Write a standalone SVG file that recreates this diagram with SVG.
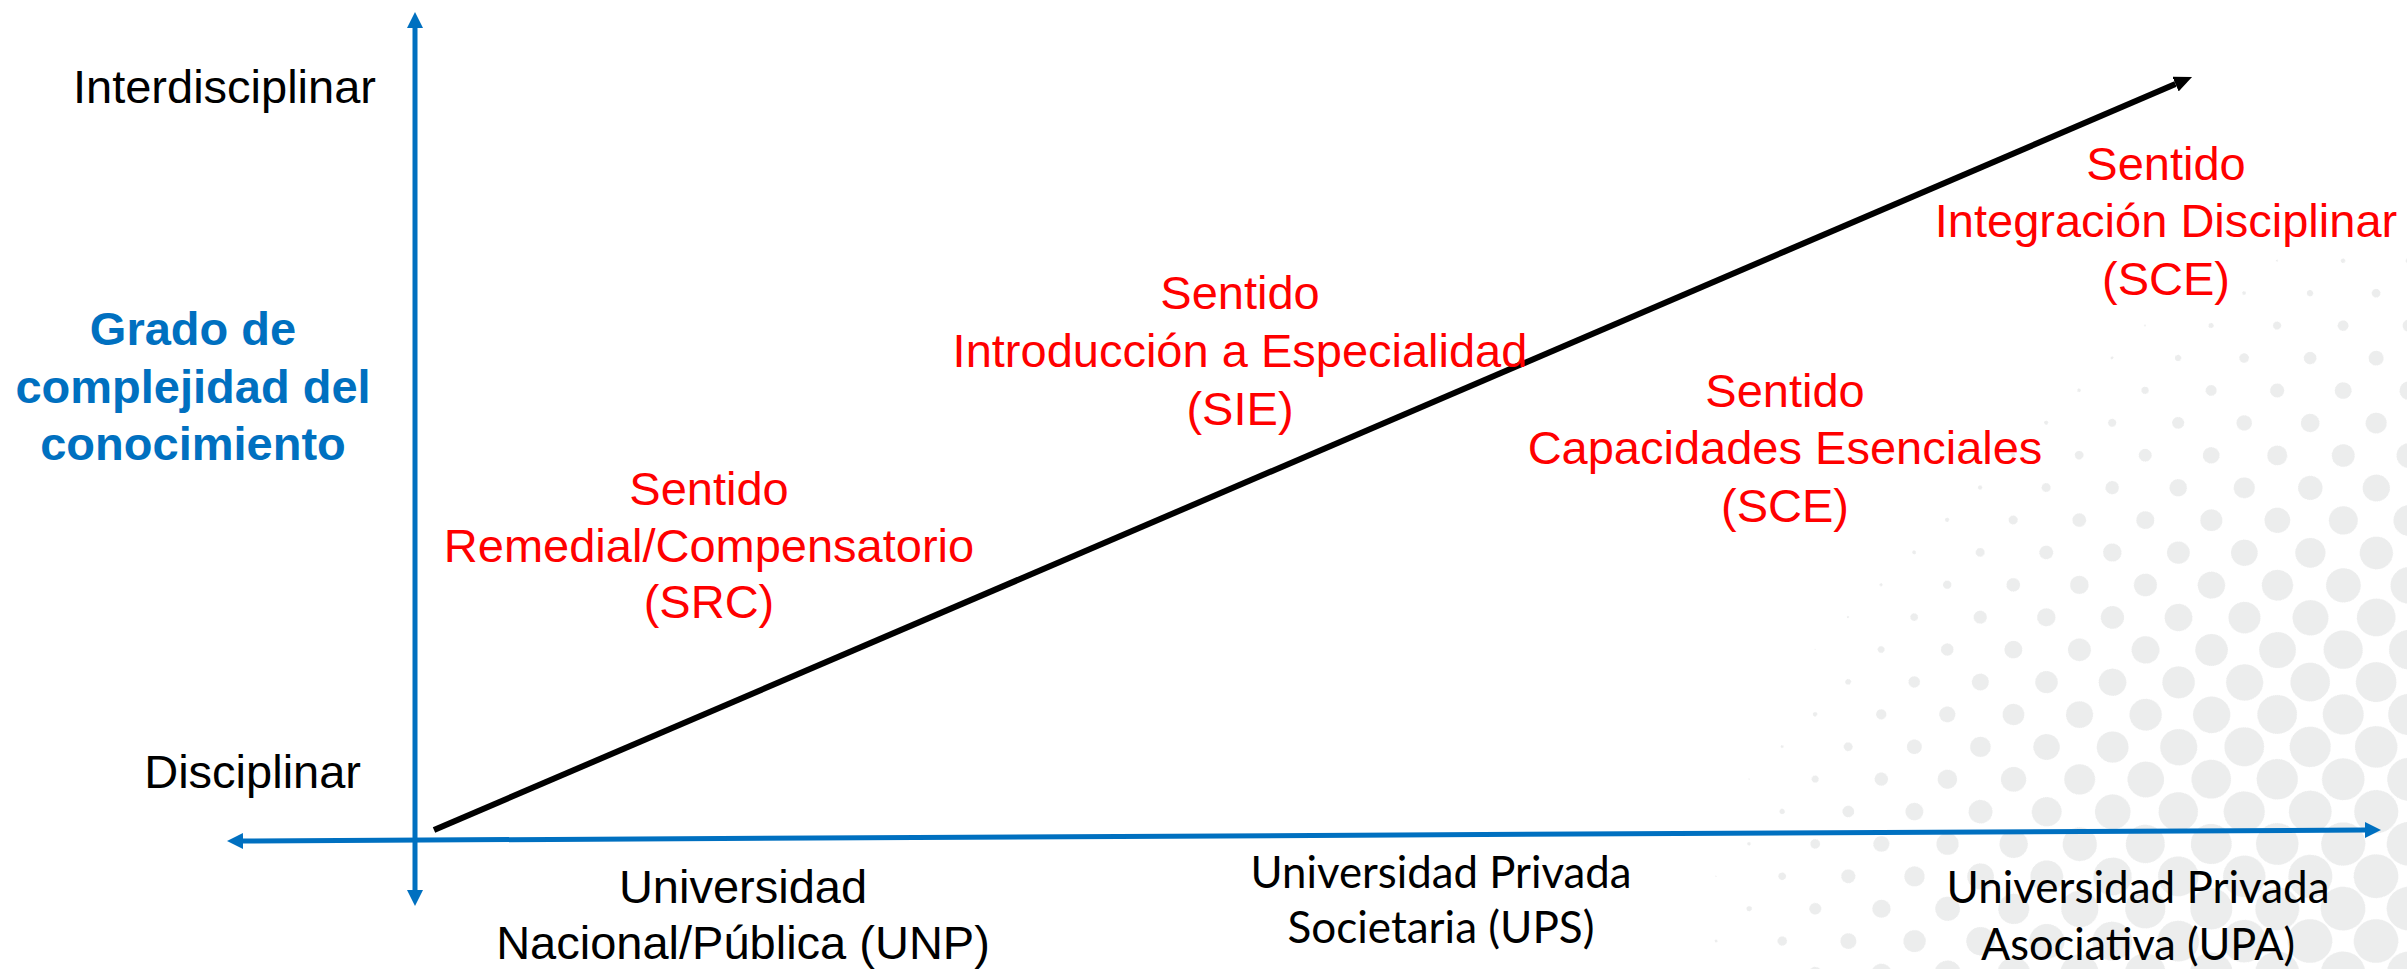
<svg xmlns="http://www.w3.org/2000/svg" width="2407" height="969" viewBox="0 0 2407 969">
  <style>
    .ax { fill: none; stroke: #0070C0; stroke-width: 5; }
    .sx { font-family: "Liberation Sans", Arial, sans-serif; font-size: 47px; }
    .blk { fill: #000000; }
    .red { fill: #FF0000; text-anchor: middle; }
    .blue { fill: #0070C0; font-weight: bold; text-anchor: middle; }
    .cal { font-family: Lato, "Liberation Sans", sans-serif; font-size: 45px; fill: #000000; text-anchor: middle; }
    .mid { text-anchor: middle; }
    .end { text-anchor: end; }
  </style>
  <defs>
    <marker id="blueArrow" markerUnits="userSpaceOnUse" markerWidth="16" markerHeight="16" viewBox="0 0 16 16" refX="0" refY="8" orient="auto-start-reverse">
      <path d="M0,0 L16,8 L0,16 z" fill="#0070C0"/>
    </marker>
    <marker id="blackArrow" markerUnits="userSpaceOnUse" markerWidth="18" markerHeight="16" viewBox="0 0 18 16" refX="0" refY="8" orient="auto">
      <path d="M0,0 L18,8 L0,16 z" fill="#000000"/>
    </marker>
    <radialGradient id="cone" gradientUnits="userSpaceOnUse" cx="23.1" cy="23.1" r="32.67">
      <stop offset="0" stop-color="#000000"/>
      <stop offset="1" stop-color="#ffffff"/>
    </radialGradient>
    <pattern id="cones" patternUnits="userSpaceOnUse" width="46.2" height="46.2" patternTransform="matrix(0.7143 0.7013 -0.7143 0.7013 2112 584.6)">
      <rect width="46.2" height="46.2" fill="url(#cone)"/>
    </pattern>
    <radialGradient id="q" gradientUnits="userSpaceOnUse" cx="2650" cy="1150" r="1000">
      <stop offset="0" stop-color="#4e4e4e"/>
      <stop offset="0.42" stop-color="#4e4e4e"/>
      <stop offset="0.605" stop-color="#656565"/>
      <stop offset="0.985" stop-color="#fafafa"/>
      <stop offset="1" stop-color="#ffffff"/>
    </radialGradient>
    <filter id="ht" filterUnits="userSpaceOnUse" x="1600" y="180" width="807" height="789" color-interpolation-filters="sRGB">
      <feComponentTransfer>
        <feFuncR type="linear" slope="60" intercept="-28.9"/>
        <feFuncG type="linear" slope="60" intercept="-28.9"/>
        <feFuncB type="linear" slope="60" intercept="-28.9"/>
      </feComponentTransfer>
      <feComponentTransfer>
        <feFuncR type="linear" slope="0.0706" intercept="0.9294"/>
        <feFuncG type="linear" slope="0.0667" intercept="0.9333"/>
        <feFuncB type="linear" slope="0.0667" intercept="0.9333"/>
      </feComponentTransfer>
    </filter>
  </defs>

  <rect width="2407" height="969" fill="#ffffff"/>

  <g id="halftone-background" filter="url(#ht)">
    <rect x="1600" y="180" width="807" height="789" fill="#ffffff"/>
    <rect x="1600" y="180" width="807" height="789" fill="url(#cones)"/>
    <rect x="1600" y="180" width="807" height="789" fill="url(#q)" opacity="0.5"/>
  </g>

  <g id="connectors">
    <line id="axis-y" class="ax" x1="415" y1="890" x2="415" y2="28" marker-start="url(#blueArrow)" marker-end="url(#blueArrow)"/>
    <line id="axis-x" class="ax" x1="243" y1="841" x2="2365" y2="830" marker-start="url(#blueArrow)" marker-end="url(#blueArrow)"/>
    <line id="trend" x1="434" y1="830" x2="2175.5" y2="84.1" stroke="#000000" stroke-width="6" marker-end="url(#blackArrow)"/>
  </g>

  <g id="y-labels">
    <text class="sx blk end" x="376" y="103">Interdisciplinar</text>
    <text class="sx blk end" x="361" y="788">Disciplinar</text>
  </g>

  <g id="y-title">
    <text class="sx blue" x="193" y="345">Grado de</text>
    <text class="sx blue" x="193" y="403">complejidad del</text>
    <text class="sx blue" x="193" y="460">conocimiento</text>
  </g>

  <g id="label-src">
    <text class="sx red" x="709" y="505">Sentido</text>
    <text class="sx red" x="709" y="562">Remedial/Compensatorio</text>
    <text class="sx red" x="709" y="618">(SRC)</text>
  </g>

  <g id="label-sie">
    <text class="sx red" x="1240" y="309">Sentido</text>
    <text class="sx red" x="1240" y="367">Introducción a Especialidad</text>
    <text class="sx red" x="1240" y="425">(SIE)</text>
  </g>

  <g id="label-sce">
    <text class="sx red" x="1785" y="407">Sentido</text>
    <text class="sx red" x="1785" y="464">Capacidades Esenciales</text>
    <text class="sx red" x="1785" y="522">(SCE)</text>
  </g>

  <g id="label-sid">
    <text class="sx red" x="2166" y="180">Sentido</text>
    <text class="sx red" x="2166" y="237">Integración Disciplinar</text>
    <text class="sx red" x="2166" y="295">(SCE)</text>
  </g>

  <g id="x-unp">
    <text class="sx blk mid" x="743" y="903">Universidad</text>
    <text class="sx blk mid" x="743" y="959">Nacional/Pública (UNP)</text>
  </g>

  <g id="x-ups">
    <text class="cal" x="1441" y="888" textLength="381" lengthAdjust="spacingAndGlyphs">Universidad Privada</text>
    <text class="cal" x="1441" y="943" textLength="307" lengthAdjust="spacingAndGlyphs">Societaria (UPS)</text>
  </g>

  <g id="x-upa">
    <text class="cal" x="2138" y="903" textLength="383" lengthAdjust="spacingAndGlyphs">Universidad Privada</text>
    <text class="cal" x="2138" y="960" textLength="314" lengthAdjust="spacingAndGlyphs">Asociativa (UPA)</text>
  </g>
</svg>
